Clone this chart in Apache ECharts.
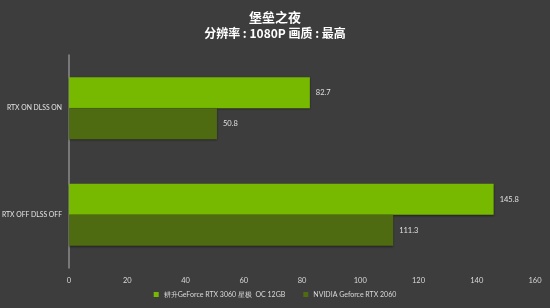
<!DOCTYPE html>
<html>
<head>
<meta charset="utf-8">
<script src="https://cdn.jsdelivr.net/npm/echarts@6/dist/echarts.min.js"></script>
<style>
  html, body { margin: 0; padding: 0; background: #3d3d3d; }
  #chart { width: 550px; height: 308px; }
</style>
</head>
<body>
<div id="chart"></div>
<script>
const categories = ['RTX ON DLSS ON', 'RTX OFF DLSS OFF'];
const seriesNames = ['耕升GeForce RTX 3060 星极  OC 12GB', 'NVIDIA Geforce RTX 2060'];
const rtx3060 = [82.7, 145.8];
const rtx2060 = [50.8, 111.3];
const colors = ['#76b900', '#4e6b11'];

const chart = echarts.init(document.getElementById('chart'));

function barSeries(name, data, color) {
    return {
        name: name,
        type: 'bar',
        data: data,
        barGap: '0%',
        barCategoryGap: '42%',
        itemStyle: {
            color: color,
            shadowColor: 'rgba(0,0,0,0.45)',
            shadowOffsetY: 1,
            shadowBlur: 2
        },
        label: {
            show: true,
            position: 'right',
            distance: 6,
            color: '#e0e0e0',
            fontSize: 7.5,
            fontFamily: 'Lato'
        }
    };
}

const option = {
    backgroundColor: '#3d3d3d',
    title: {
        text: '堡垒之夜',
        subtext: '分辨率 : 1080P 画质 : 最高',
        left: 'center',
        top: 6,
        itemGap: 3,
        textStyle: {
            color: '#ffffff',
            fontSize: 13,
            fontWeight: 'bold',
            fontFamily: 'Noto Sans CJK SC'
        },
        subtextStyle: {
            color: '#ffffff',
            fontSize: 12,
            fontWeight: 'bold',
            fontFamily: 'Noto Sans CJK SC'
        }
    },
    legend: {
        bottom: 5,
        left: 'center',
        itemWidth: 5,
        itemHeight: 5,
        itemGap: 18,
        icon: 'rect',
        textStyle: {
            color: '#d9d9d9',
            fontSize: 7,
            fontFamily: 'Lato'
        },
        data: seriesNames
    },
    grid: {
        left: 69,
        right: 15,
        top: 55,
        bottom: 40,
        outerBoundsMode: 'none'
    },
    xAxis: {
        type: 'value',
        min: 0,
        max: 160,
        interval: 20,
        splitLine: { show: false },
        axisLine: { show: false },
        axisTick: { show: false },
        axisLabel: {
            color: '#d9d9d9',
            fontSize: 7.5,
            fontFamily: 'Lato',
            margin: 9
        }
    },
    yAxis: {
        type: 'category',
        data: categories,
        inverse: true,
        axisLine: { show: true, lineStyle: { color: '#8c8c8c', width: 1.5 } },
        axisTick: { show: false },
        axisLabel: {
            color: '#e6e6e6',
            fontSize: 6.8,
            fontFamily: 'Lato',
            margin: 7
        }
    },
    series: [
        barSeries(seriesNames[0], rtx3060, colors[0]),
        barSeries(seriesNames[1], rtx2060, colors[1])
    ]
};

chart.setOption(option);
</script>
</body>
</html>
